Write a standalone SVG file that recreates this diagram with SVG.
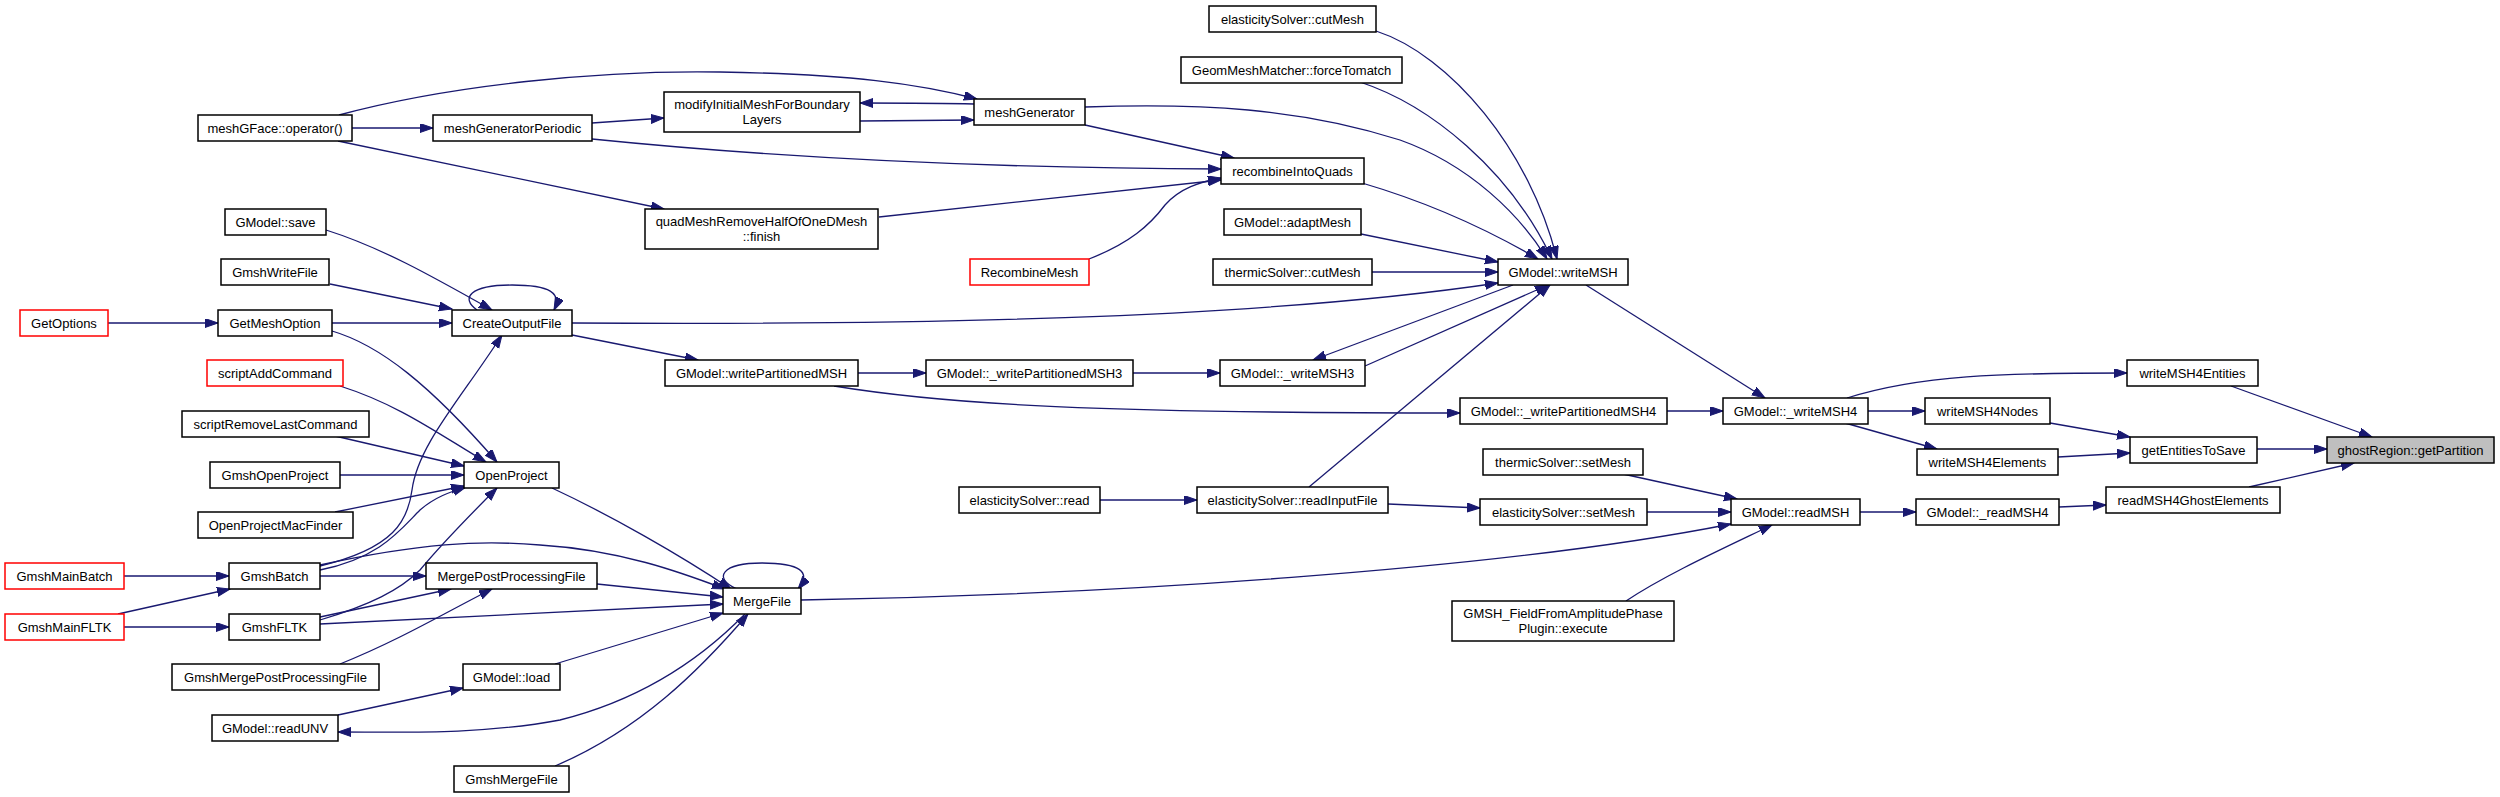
<svg xmlns="http://www.w3.org/2000/svg" width="2500" height="797" viewBox="0 0 2500 797">
<style>
.node rect{fill:#fff;stroke:#000;stroke-width:1.5}
.node.red rect{stroke:#ff0000}
.node.hl rect{fill:#bfbfbf}
.node text{font-family:"Liberation Sans",Arial,sans-serif;font-size:13px;text-anchor:middle;fill:#000}
.edges path{fill:none;stroke:#191970;stroke-width:1.3;marker-end:url(#arr)}
</style>
<defs>
<marker id="arr" markerUnits="userSpaceOnUse" markerWidth="14" markerHeight="10" refX="13" refY="4.5" orient="auto">
<path d="M0,0 L13,4.5 L0,9 z" fill="#191970" stroke="#191970" stroke-width="1"/>
</marker>
</defs>
<rect width="2500" height="797" fill="#fff"/>
<g class="edges">
<path d="M339,115 C450,85 600,70 720,72 C850,74 920,84 977,99"/>
<path d="M352,128 L433,128"/>
<path d="M338,141 L664,209"/>
<path d="M592,123 L664,118"/>
<path d="M592,139 C750,155 950,168 1221,169"/>
<path d="M860,121 C900,121 940,120 974,120"/>
<path d="M974,104 C940,103 900,103 860,103"/>
<path d="M1085,125 L1234,158"/>
<path d="M1085,107 C1200,103 1300,108 1400,140 C1470,165 1520,215 1547,259"/>
<path d="M1376,31 C1450,55 1530,150 1557,259"/>
<path d="M1360,82 C1430,105 1510,170 1552,259"/>
<path d="M1362,183 C1420,200 1480,225 1538,259"/>
<path d="M1361,234 L1498,262"/>
<path d="M1372,272 L1498,272"/>
<path d="M572,323 C900,325 1250,320 1498,283"/>
<path d="M1513,285 L1313,360"/>
<path d="M1365,366 L1548,285"/>
<path d="M1309,487 L1550,285"/>
<path d="M1586,285 L1765,398"/>
<path d="M879,217 L1221,180"/>
<path d="M1089,259 C1130,243 1150,225 1165,205 C1180,188 1200,182 1221,178"/>
<path d="M326,230 C380,247 430,275 492,310"/>
<path d="M330,284 L452,309"/>
<path d="M108,323 L218,323"/>
<path d="M332,323 L452,323"/>
<path d="M332,331 C380,345 430,385 497,462"/>
<path d="M477,310 C460,298 470,285 512,285 C550,285 562,293 554,310"/>
<path d="M572,335 L698,360"/>
<path d="M340,386 C400,405 440,435 486,462"/>
<path d="M335,436 L464,466"/>
<path d="M340,475 L464,475"/>
<path d="M335,512 L464,486"/>
<path d="M320,570 C380,558 400,530 420,510 C435,497 450,492 466,487"/>
<path d="M320,566 C395,548 408,520 412,490 C418,445 460,400 502,335"/>
<path d="M320,576 L426,576"/>
<path d="M320,565 C420,543 480,540 540,545 C620,550 680,572 725,589"/>
<path d="M124,576 L229,576"/>
<path d="M118,614 L230,589"/>
<path d="M124,627 L229,627"/>
<path d="M320,620 C370,605 400,590 420,570 C445,540 470,515 497,488"/>
<path d="M320,617 L451,589"/>
<path d="M320,624 L723,604"/>
<path d="M340,664 C400,640 450,610 492,589"/>
<path d="M597,584 L723,597"/>
<path d="M552,488 C610,515 680,555 731,589"/>
<path d="M555,664 L723,613"/>
<path d="M745,614 C700,660 640,700 560,720 C480,735 400,732 338,732"/>
<path d="M338,715 L463,688"/>
<path d="M555,766 C640,730 700,670 748,614"/>
<path d="M737,589 C712,578 722,563 762,563 C800,563 812,572 798,589"/>
<path d="M801,600 C1100,595 1500,570 1731,524"/>
<path d="M1100,500 L1197,500"/>
<path d="M1388,504 L1480,508"/>
<path d="M858,373 L926,373"/>
<path d="M834,386 C950,405 1100,413 1460,413"/>
<path d="M1133,373 L1220,373"/>
<path d="M1667,411 L1723,411"/>
<path d="M1847,398 C1920,375 2000,373 2127,373"/>
<path d="M1868,411 L1925,411"/>
<path d="M1845,423 L1937,449"/>
<path d="M2050,423 L2130,437"/>
<path d="M2058,457 L2130,453"/>
<path d="M2231,386 L2372,437"/>
<path d="M2257,449 L2327,449"/>
<path d="M2249,487 L2354,463"/>
<path d="M1623,474 L1737,499"/>
<path d="M1647,512 L1731,512"/>
<path d="M1626,601 C1665,575 1720,550 1772,525"/>
<path d="M1860,512 L1916,512"/>
<path d="M2059,507 L2106,505"/>
</g>
<g id="n_meshGFace" class="node"><rect x="198" y="115" width="154" height="26"/><text x="275" y="132.5">meshGFace::operator()</text></g>
<g id="n_meshGeneratorPeriodic" class="node"><rect x="433" y="115" width="159" height="26"/><text x="512.5" y="132.5">meshGeneratorPeriodic</text></g>
<g id="n_modifyInitial" class="node"><rect x="664" y="92" width="196" height="40"/><text x="762" y="108.5">modifyInitialMeshForBoundary</text><text x="762" y="123.5">Layers</text></g>
<g id="n_meshGenerator" class="node"><rect x="974" y="99" width="111" height="26"/><text x="1029.5" y="116.5">meshGenerator</text></g>
<g id="n_quadMesh" class="node"><rect x="645" y="209" width="233" height="40"/><text x="761.5" y="225.5">quadMeshRemoveHalfOfOneDMesh</text><text x="761.5" y="240.5">::finish</text></g>
<g id="n_recombineIntoQuads" class="node"><rect x="1221" y="158" width="143" height="26"/><text x="1292.5" y="175.5">recombineIntoQuads</text></g>
<g id="n_RecombineMesh" class="node red"><rect x="970" y="259" width="119" height="26"/><text x="1029.5" y="276.5">RecombineMesh</text></g>
<g id="n_elasCutMesh" class="node"><rect x="1209" y="6" width="167" height="26"/><text x="1292.5" y="23.5">elasticitySolver::cutMesh</text></g>
<g id="n_GeomMeshMatcher" class="node"><rect x="1181" y="57" width="221" height="26"/><text x="1291.5" y="74.5">GeomMeshMatcher::forceTomatch</text></g>
<g id="n_adaptMesh" class="node"><rect x="1224" y="209" width="137" height="26"/><text x="1292.5" y="226.5">GModel::adaptMesh</text></g>
<g id="n_thermicCutMesh" class="node"><rect x="1213" y="259" width="159" height="26"/><text x="1292.5" y="276.5">thermicSolver::cutMesh</text></g>
<g id="n_writeMSH" class="node"><rect x="1498" y="259" width="130" height="26"/><text x="1563" y="276.5">GModel::writeMSH</text></g>
<g id="n_save" class="node"><rect x="225" y="209" width="101" height="26"/><text x="275.5" y="226.5">GModel::save</text></g>
<g id="n_GmshWriteFile" class="node"><rect x="221" y="259" width="108" height="26"/><text x="275" y="276.5">GmshWriteFile</text></g>
<g id="n_GetOptions" class="node red"><rect x="20" y="310" width="88" height="26"/><text x="64" y="327.5">GetOptions</text></g>
<g id="n_GetMeshOption" class="node"><rect x="218" y="310" width="114" height="26"/><text x="275" y="327.5">GetMeshOption</text></g>
<g id="n_CreateOutputFile" class="node"><rect x="452" y="310" width="120" height="26"/><text x="512" y="327.5">CreateOutputFile</text></g>
<g id="n_scriptAddCommand" class="node red"><rect x="207" y="360" width="136" height="26"/><text x="275" y="377.5">scriptAddCommand</text></g>
<g id="n_writePartitionedMSH" class="node"><rect x="665" y="360" width="193" height="26"/><text x="761.5" y="377.5">GModel::writePartitionedMSH</text></g>
<g id="n_wPM3" class="node"><rect x="926" y="360" width="207" height="26"/><text x="1029.5" y="377.5">GModel::_writePartitionedMSH3</text></g>
<g id="n_writeMSH3" class="node"><rect x="1220" y="360" width="145" height="26"/><text x="1292.5" y="377.5">GModel::_writeMSH3</text></g>
<g id="n_scriptRemoveLastCommand" class="node"><rect x="182" y="411" width="187" height="26"/><text x="275.5" y="428.5">scriptRemoveLastCommand</text></g>
<g id="n_GmshOpenProject" class="node"><rect x="210" y="462" width="130" height="26"/><text x="275" y="479.5">GmshOpenProject</text></g>
<g id="n_OpenProject" class="node"><rect x="464" y="462" width="95" height="26"/><text x="511.5" y="479.5">OpenProject</text></g>
<g id="n_OpenProjectMacFinder" class="node"><rect x="198" y="512" width="155" height="26"/><text x="275.5" y="529.5">OpenProjectMacFinder</text></g>
<g id="n_GmshMainBatch" class="node red"><rect x="5" y="563" width="119" height="26"/><text x="64.5" y="580.5">GmshMainBatch</text></g>
<g id="n_GmshBatch" class="node"><rect x="229" y="563" width="91" height="26"/><text x="274.5" y="580.5">GmshBatch</text></g>
<g id="n_MergePostProcessingFile" class="node"><rect x="426" y="563" width="171" height="26"/><text x="511.5" y="580.5">MergePostProcessingFile</text></g>
<g id="n_GmshMainFLTK" class="node red"><rect x="5" y="614" width="119" height="26"/><text x="64.5" y="631.5">GmshMainFLTK</text></g>
<g id="n_GmshFLTK" class="node"><rect x="229" y="614" width="91" height="26"/><text x="274.5" y="631.5">GmshFLTK</text></g>
<g id="n_GmshMergePostProcessingFile" class="node"><rect x="172" y="664" width="207" height="26"/><text x="275.5" y="681.5">GmshMergePostProcessingFile</text></g>
<g id="n_load" class="node"><rect x="463" y="664" width="97" height="26"/><text x="511.5" y="681.5">GModel::load</text></g>
<g id="n_readUNV" class="node"><rect x="212" y="715" width="126" height="26"/><text x="275" y="732.5">GModel::readUNV</text></g>
<g id="n_GmshMergeFile" class="node"><rect x="454" y="766" width="115" height="26"/><text x="511.5" y="783.5">GmshMergeFile</text></g>
<g id="n_MergeFile" class="node"><rect x="723" y="588" width="78" height="26"/><text x="762" y="605.5">MergeFile</text></g>
<g id="n_elasRead" class="node"><rect x="959" y="487" width="141" height="26"/><text x="1029.5" y="504.5">elasticitySolver::read</text></g>
<g id="n_elasReadInputFile" class="node"><rect x="1197" y="487" width="191" height="26"/><text x="1292.5" y="504.5">elasticitySolver::readInputFile</text></g>
<g id="n_wPM4" class="node"><rect x="1460" y="398" width="207" height="26"/><text x="1563.5" y="415.5">GModel::_writePartitionedMSH4</text></g>
<g id="n_writeMSH4" class="node"><rect x="1723" y="398" width="145" height="26"/><text x="1795.5" y="415.5">GModel::_writeMSH4</text></g>
<g id="n_writeMSH4Nodes" class="node"><rect x="1925" y="398" width="125" height="26"/><text x="1987.5" y="415.5">writeMSH4Nodes</text></g>
<g id="n_writeMSH4Entities" class="node"><rect x="2127" y="360" width="131" height="26"/><text x="2192.5" y="377.5">writeMSH4Entities</text></g>
<g id="n_writeMSH4Elements" class="node"><rect x="1917" y="449" width="141" height="26"/><text x="1987.5" y="466.5">writeMSH4Elements</text></g>
<g id="n_getEntitiesToSave" class="node"><rect x="2130" y="437" width="127" height="26"/><text x="2193.5" y="454.5">getEntitiesToSave</text></g>
<g id="n_ghostRegion" class="node hl"><rect x="2327" y="437" width="167" height="26"/><text x="2410.5" y="454.5">ghostRegion::getPartition</text></g>
<g id="n_thermicSetMesh" class="node"><rect x="1483" y="449" width="160" height="26"/><text x="1563" y="466.5">thermicSolver::setMesh</text></g>
<g id="n_elasSetMesh" class="node"><rect x="1480" y="499" width="167" height="26"/><text x="1563.5" y="516.5">elasticitySolver::setMesh</text></g>
<g id="n_readMSH" class="node"><rect x="1731" y="499" width="129" height="26"/><text x="1795.5" y="516.5">GModel::readMSH</text></g>
<g id="n_readMSH4" class="node"><rect x="1916" y="499" width="143" height="26"/><text x="1987.5" y="516.5">GModel::_readMSH4</text></g>
<g id="n_readMSH4Ghost" class="node"><rect x="2106" y="487" width="174" height="26"/><text x="2193" y="504.5">readMSH4GhostElements</text></g>
<g id="n_GMSHField" class="node"><rect x="1452" y="601" width="222" height="40"/><text x="1563" y="617.5">GMSH_FieldFromAmplitudePhase</text><text x="1563" y="632.5">Plugin::execute</text></g>
</svg>
